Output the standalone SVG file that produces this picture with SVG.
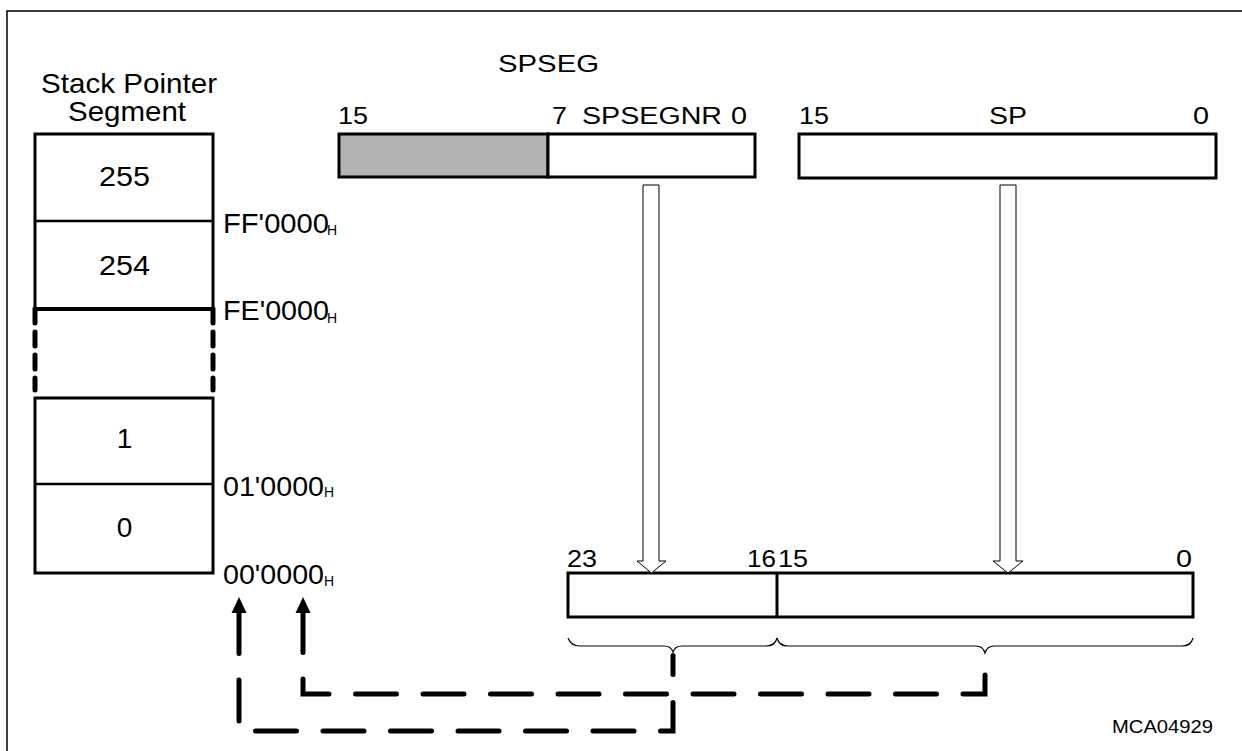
<svg xmlns="http://www.w3.org/2000/svg" width="1242" height="751" viewBox="0 0 1242 751">
<defs>
<style>
text{font-family:"Liberation Sans",Arial,sans-serif;fill:#000}
.big{font-size:28px}
.reg{font-size:23.5px}
.sub{font-size:14px}
.box{fill:#fff;stroke:#000;stroke-width:3}
.brace{fill:none;stroke:#000;stroke-width:1.2}
.hollow{fill:#fff;stroke:#000;stroke-width:1}
.dash{fill:none;stroke:#000;stroke-width:5;stroke-linecap:round;stroke-linejoin:miter;stroke-dasharray:41 26.5}
</style>
</defs>
<rect x="0" y="0" width="1242" height="751" fill="#fff"/>
<path d="M7,751 V11 H1242" fill="none" stroke="#000" stroke-width="1.5"/>

<g id="stack">
<text class="big" x="41" y="93" textLength="176" lengthAdjust="spacingAndGlyphs">Stack Pointer</text>
<text class="big" x="68" y="121" textLength="118" lengthAdjust="spacingAndGlyphs">Segment</text>
<rect class="box" x="35" y="134" width="178" height="175"/>
<line x1="35" y1="221" x2="213" y2="221" stroke="#000" stroke-width="2.5"/>
<line x1="35" y1="309" x2="213" y2="309" stroke="#000" stroke-width="4"/>
<path d="M35,309 V390 M213,309 V390" fill="none" stroke="#000" stroke-width="5" stroke-linecap="round" stroke-dasharray="14 9"/>
<rect class="box" x="35" y="398" width="178" height="175"/>
<line x1="35" y1="484" x2="213" y2="484" stroke="#000" stroke-width="2.5"/>
<text class="big" x="124.5" y="186" text-anchor="middle" textLength="51" lengthAdjust="spacingAndGlyphs">255</text>
<text class="big" x="124.5" y="275" text-anchor="middle" textLength="51" lengthAdjust="spacingAndGlyphs">254</text>
<text class="big" x="124.5" y="448" text-anchor="middle">1</text>
<text class="big" x="124.5" y="537" text-anchor="middle">0</text>
</g>

<g id="addresses">
<text class="big" x="223" y="233" textLength="106" lengthAdjust="spacingAndGlyphs">FF'0000</text><text class="sub" x="327" y="235">H</text>
<text class="big" x="223" y="320" textLength="106" lengthAdjust="spacingAndGlyphs">FE'0000</text><text class="sub" x="327" y="323">H</text>
<text class="big" x="223" y="496" textLength="101" lengthAdjust="spacingAndGlyphs">01'0000</text><text class="sub" x="324" y="497">H</text>
<text class="big" x="223" y="584" textLength="101" lengthAdjust="spacingAndGlyphs">00'0000</text><text class="sub" x="324" y="586">H</text>
</g>

<g id="spseg">
<text x="498" y="72" font-size="24" textLength="101" lengthAdjust="spacingAndGlyphs">SPSEG</text>
<rect x="339" y="134" width="209" height="43" fill="#b3b3b3" stroke="#000" stroke-width="3"/>
<rect class="box" x="548" y="134" width="207" height="43"/>
<text class="reg" x="338" y="124" textLength="30" lengthAdjust="spacingAndGlyphs">15</text>
<text class="reg" x="552" y="124" textLength="15" lengthAdjust="spacingAndGlyphs">7</text>
<text class="reg" x="582" y="124" textLength="140" lengthAdjust="spacingAndGlyphs">SPSEGNR</text>
<text class="reg" x="739" y="124" text-anchor="middle" textLength="16" lengthAdjust="spacingAndGlyphs">0</text>
</g>

<g id="sp">
<rect class="box" x="799" y="134" width="417" height="44"/>
<text class="reg" x="799" y="124" textLength="30" lengthAdjust="spacingAndGlyphs">15</text>
<text class="reg" x="989" y="124" textLength="38" lengthAdjust="spacingAndGlyphs">SP</text>
<text class="reg" x="1201" y="124" text-anchor="middle" textLength="16" lengthAdjust="spacingAndGlyphs">0</text>
</g>

<g id="address24">
<rect class="box" x="568" y="573" width="625" height="44"/>
<line x1="777" y1="573" x2="777" y2="617" stroke="#000" stroke-width="3"/>
<text class="reg" x="567" y="567" textLength="30" lengthAdjust="spacingAndGlyphs">23</text>
<text class="reg" x="747" y="567" textLength="29" lengthAdjust="spacingAndGlyphs">16</text>
<text class="reg" x="778" y="567" textLength="30" lengthAdjust="spacingAndGlyphs">15</text>
<text class="reg" x="1184" y="567" text-anchor="middle" textLength="16" lengthAdjust="spacingAndGlyphs">0</text>
<path class="brace" d="M568,638 Q571,646 580,646 H664 Q671,646 673,652 Q675,646 682,646 H766 Q775,646 777,638"/>
<path class="brace" d="M777,638 Q779,646 788,646 H976 Q983,646 985,653 Q987,646 994,646 H1182 Q1191,646 1193,638"/>
</g>

<g id="connectors">
<path class="hollow" d="M643,185 H659 V561 H666 L651.5,573 L637,561 H643 Z"/>
<path class="hollow" d="M1000,185 H1016 V561 H1023 L1008,573 L993,561 H1000 Z"/>
<line x1="673" y1="655.5" x2="673" y2="674.5" stroke="#000" stroke-width="5" stroke-linecap="round"/>
<path class="dash" d="M673,702.5 V731 H239 V613"/>
<polygon points="239,597 231.5,613 246.5,613" fill="#000"/>
<path class="dash" stroke-dashoffset="45.5" d="M985,653 V694 H303 V613"/>
<polygon points="303,597 295.5,613 310.5,613" fill="#000"/>
</g>

<text x="1112" y="733" font-size="19" textLength="101" lengthAdjust="spacingAndGlyphs">MCA04929</text>
</svg>
